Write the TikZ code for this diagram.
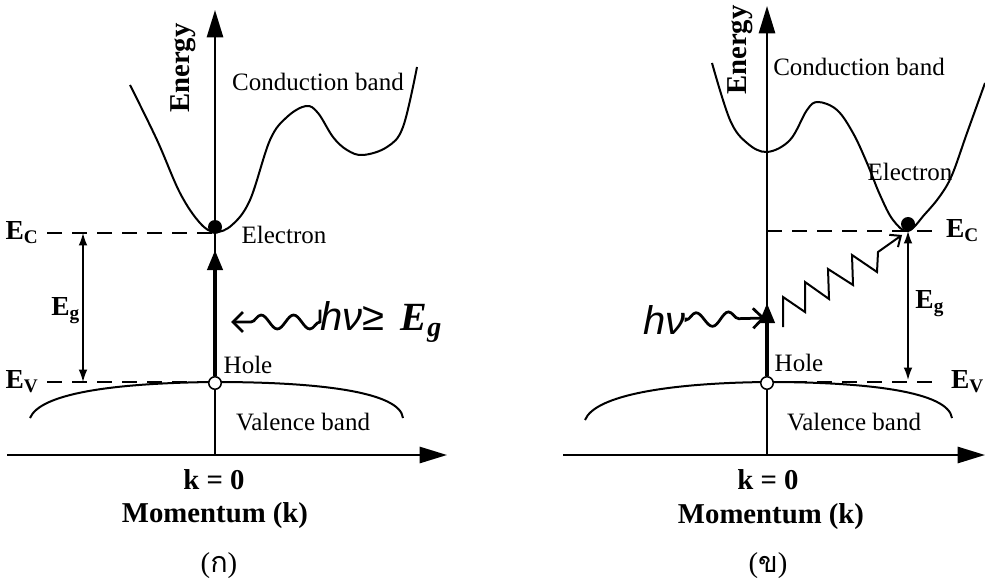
\documentclass[tikz,border=0pt]{standalone}
\usepackage{fontspec}
\setmainfont{Liberation Serif}
\newfontfamily\sansf{Liberation Sans}
\newfontfamily\thaifont[Script=Thai]{Loma}
\usetikzlibrary{arrows.meta,decorations.pathmorphing,positioning}
\tikzset{
  axis/.style={line width=0.9pt,-{Triangle[length=11pt,width=6.5pt]}},
  band/.style={line width=0.8pt},
  level/.style={line width=0.8pt,dash pattern=on 6pt off 4pt},
  gaparrow/.style={line width=0.6pt,{Latex[length=5pt,width=3.5pt]}-{Latex[length=5pt,width=3.5pt]}},
  excite/.style={line width=1.6pt,-{Triangle[length=8pt,width=6pt]}},
  photon/.style={line width=1.1pt,decorate,
    decoration={snake,amplitude=2.8pt,segment length=13pt,pre length=0pt,post length=4pt},
    -{Straight Barb[length=4pt,width=8pt]}},
  electron/.style={circle,fill=black,inner sep=0pt,minimum size=5.6pt},
  hole/.style={circle,draw=black,fill=white,line width=0.6pt,inner sep=0pt,minimum size=5pt},
  boldtxt/.style={font=\fontsize{11.5}{13}\selectfont\bfseries},
  eltxt/.style={font=\fontsize{10}{12}\selectfont,inner sep=1pt},
  levtxt/.style={font=\fontsize{11}{13}\selectfont\bfseries,inner sep=1pt},
  captxt/.style={font=\fontsize{11.5}{13}\selectfont,inner sep=0pt},
}
\newcommand{\lev}[1]{E\textsubscript{#1}}
\begin{document}
\begin{tikzpicture}[x=0.4pt,y=-0.4pt]
	\useasboundingbox (0,0) rectangle (985,585);
	% (ก)
	\coordinate (ka) at (7,455);
	\coordinate (kb) at (447,455);
	\coordinate (ea) at (215,455);
	\coordinate (eb) at (215,10);
	\draw[axis] (ka) -- (kb);
	\draw[axis] (ea) -- (eb);
	\node[boldtxt,rotate=90] (en1) at (183,68) {Energy};
	\draw[band] plot [smooth,tension=0.6] coordinates {(130,85) (157,140) (180,193) (200,223) (215,232) (232,225) (250,200) (270,140) (287,117) (306,106) (318,113) (333,137) (347,150) (363,155) (387,147) (403,127) (417,67)};
	\draw[band] (30,418) .. controls (40,394) and (110,383) .. (215,382) .. controls (320,382) and (400,392) .. (403,418);
	\node[eltxt] (cb1) at (318,82) {Conduction band};
	\node[eltxt] (vb1) at (303,422) {Valence band};
	\node[levtxt,anchor=east] (ec1) at (42,233) {\lev{C}};
	\node[levtxt,anchor=east] (ev1) at (42,382) {\lev{V}};
	\coordinate (ec1r) at (213,233);
	\coordinate (ev1r) at (215,382);
	\draw[level,shorten <=2pt] (ec1.east) -- (ec1r);
	\draw[level,shorten <=2pt] (ev1.east) -- (ev1r);
	\coordinate (g1a) at (83,233);
	\coordinate (g1b) at (83,382);
	\draw[gaparrow] (g1a) -- (g1b);
	\node[levtxt] (eg1) at (66,311) {\lev{g}};
	\node[electron] (el1) at (215,227) {};
	\node[hole] (ho1) at (215,383) {};
	\coordinate (t1) at (215,250);
	\draw[excite] (ho1.north) -- (t1);
	\node[eltxt] (elt1) at (284,235) {Electron};
	\node[eltxt] (hot1) at (248,365) {Hole};
	\node[anchor=west,inner sep=0pt] (nu1) at (320,322) {\fontsize{16}{18}\selectfont{\sansf\itshape hν≥}\hspace{0.4em}\textbf{\textit{E}}\textsubscript{\textbf{\textit{g}}}};
	\coordinate (p1) at (231,322);
	\draw[photon,shorten <=5pt] (nu1.west) -- (p1);
	\node[boldtxt] (k1) at (214,480) {k = 0};
	\node[boldtxt] (m1) at (215,516) {Momentum (k)};
	\node[captxt] (c1) at (219,566) {({\thaifont ก})};
	% (ข)
	\coordinate (kc) at (563,455);
	\coordinate (kd) at (985,455);
	\coordinate (ec) at (767,455);
	\coordinate (ed) at (767,6);
	\draw[axis] (kc) -- (kd);
	\draw[axis] (ec) -- (ed);
	\node[boldtxt,rotate=90] (en2) at (740,50) {Energy};
	\draw[band] plot [smooth,tension=0.6] coordinates {(712,63) (730,120) (747,143) (767,152) (790,140) (807,110) (818,102) (837,110) (853,133) (867,163) (880,195) (893,220) (908,231) (925,214) (940,196) (952,175) (967,133) (985,83)};
	\draw[band] (585,420) .. controls (595,395) and (670,383) .. (767,382) .. controls (870,382) and (948,392) .. (952,418);
	\node[eltxt] (cb2) at (859,67) {Conduction band};
	\node[eltxt] (vb2) at (854,422) {Valence band};
	\node[levtxt,anchor=west] (ec2) at (943,231) {\lev{C}};
	\node[levtxt,anchor=west] (ev2) at (948,382) {\lev{V}};
	\coordinate (ec2l) at (767,231);
	\coordinate (ev2l) at (767,382);
	\draw[level,shorten >=3pt] (ec2l) -- (ec2.west);
	\draw[level,shorten >=4pt] (ev2l) -- (ev2.west);
	\coordinate (g2a) at (908,231);
	\coordinate (g2b) at (908,380);
	\draw[gaparrow] (g2a) -- (g2b);
	\node[levtxt] (eg2) at (930,304) {\lev{g}};
	\node[electron] (el2) at (908,224) {};
	\node[hole] (ho2) at (767,383) {};
	\coordinate (t2) at (767,303);
	\draw[excite] (ho2.north) -- (t2);
	\node[eltxt] (elt2) at (910,172) {Electron};
	\node[eltxt] (hot2) at (799,363) {Hole};
	\node[anchor=east,inner sep=0pt] (nu2) at (686,320) {\fontsize{16}{18}\selectfont\sansf\itshape hν};
	\coordinate (p2) at (765,318);
	\draw[photon,shorten <=1pt] (nu2.east) -- (p2);
	\coordinate (z0) at (783,327);
	\coordinate (z9) at (902,235);
	\draw[line width=0.8pt,-{Straight Barb[length=3.5pt,width=6pt]}] (z0) -- (783,297) -- (805,312) -- (805,282) -- (829,299) -- (828,269) -- (853,285) -- (852,255) -- (877,272) -- (878,252) -- (z9);
	\node[boldtxt] (k2) at (768,480) {k = 0};
	\node[boldtxt] (m2) at (771,517) {Momentum (k)};
	\node[captxt] (c2) at (768,566) {({\thaifont ข})};
\end{tikzpicture}
\end{document}
